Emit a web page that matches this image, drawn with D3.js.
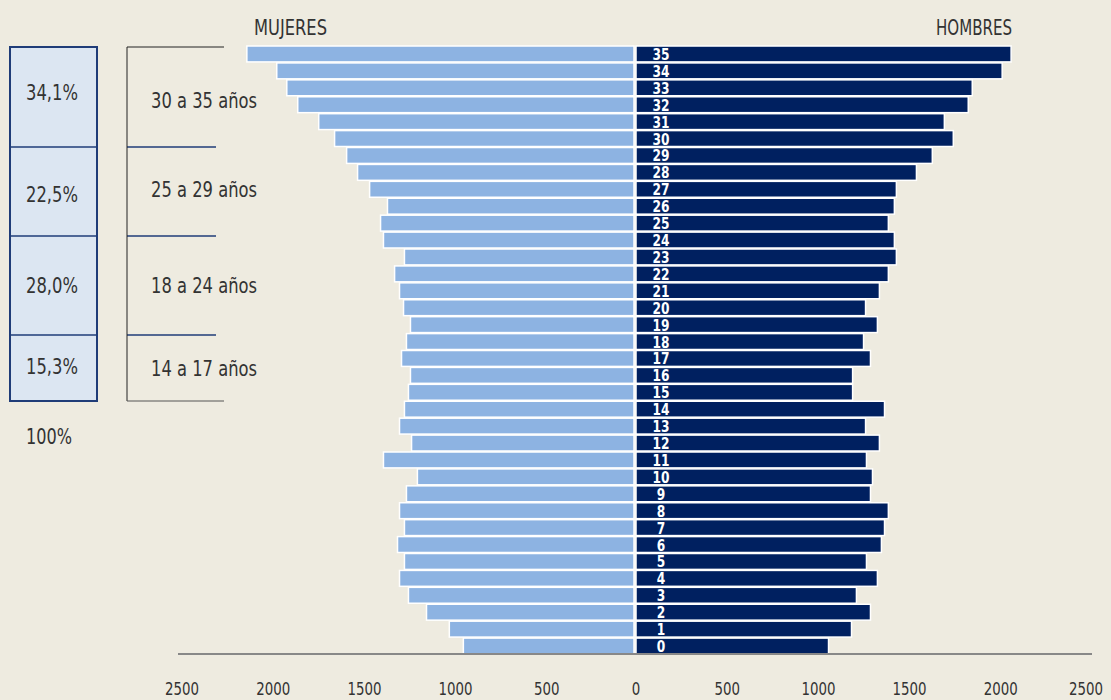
<!DOCTYPE html>
<html>
<head>
<meta charset="utf-8">
<script src="https://cdn.jsdelivr.net/npm/d3@7"></script>
<style>
  body { margin: 0; background: #eeebe0; }
  svg text { font-family: "DejaVu Sans", sans-serif; fill: #333; }
</style>
</head>
<body>
<div id="chart"></div>
<script>
var ages = d3.range(35, -1, -1);
// values, index follows ages (35 .. 0)
var mujeres = [2128, 1964, 1909, 1849, 1734, 1647, 1581, 1521, 1455, 1357, 1395, 1379,
    1264, 1318, 1291, 1269, 1231, 1253, 1280, 1231, 1242, 1264, 1291, 1225,
    1379, 1193, 1253, 1291, 1264, 1302, 1264, 1291, 1242, 1143, 1018, 941];
var hombres = [2062, 2013, 1849, 1827, 1696, 1745, 1630, 1543, 1433, 1422, 1389, 1422,
    1433, 1389, 1340, 1264, 1329, 1253, 1291, 1193, 1193, 1368, 1264, 1340,
    1269, 1302, 1291, 1389, 1368, 1351, 1269, 1329, 1214, 1291, 1187, 1061];
var ticks = [-2500, -2000, -1500, -1000, -500, 0, 500, 1000, 1500, 2000, 2500];
var groupLabels = ['30 a 35 años', '25 a 29 años', '18 a 24 años', '14 a 17 años'];
var groupPct = ['34,1%', '22,5%', '28,0%', '15,3%'];
var totalLabel = '100%';

var width = 1111,
    height = 700,
    LIGHT = '#8db3e2',
    DARK = '#002060',
    svg = d3.select('#chart').append('svg')
        .attr('width', width)
        .attr('height', height);

var x = d3.scaleLinear().domain([-2500, 2500]).range([179, 1091]),
    y = d3.scaleBand().domain(ages).range([45, 655]).padding(0.06);

var data = ages.map(function (a, i) {
    return { age: a, m: mujeres[i], h: hombres[i] };
});

// squeeze text to look like the narrow DIN face of the original
function narrow(sel, w) {
    return sel.attr('textLength', w).attr('lengthAdjust', 'spacingAndGlyphs');
}

// bars
svg.selectAll('rect.m')
    .data(data)
    .enter()
    .append('rect')
    .attr('class', 'm')
    .attr('x', function (d) { return x(-d.m); })
    .attr('width', function (d) { return x(0) - x(-d.m) - 1; })
    .attr('y', function (d) { return y(d.age); })
    .attr('height', y.bandwidth())
    .style('fill', LIGHT)
    .style('stroke', '#fff')
    .style('stroke-width', 1.5);

svg.selectAll('rect.h')
    .data(data)
    .enter()
    .append('rect')
    .attr('class', 'h')
    .attr('x', x(0) + 1)
    .attr('width', function (d) { return x(d.h) - x(0) - 1; })
    .attr('y', function (d) { return y(d.age); })
    .attr('height', y.bandwidth())
    .style('fill', DARK)
    .style('stroke', '#fff')
    .style('stroke-width', 1.5);

svg.selectAll('text.age')
    .data(data)
    .enter()
    .append('text')
    .attr('class', 'age')
    .attr('x', x(0) + 26)
    .attr('y', function (d) { return y(d.age) + y.bandwidth() / 2 + 6; })
    .attr('text-anchor', 'middle')
    .style('fill', '#fff')
    .style('font-weight', 'bold')
    .style('font-size', '16px')
    .attr('textLength', function (d) { return String(d.age).length * 8.5; })
    .attr('lengthAdjust', 'spacingAndGlyphs')
    .text(function (d) { return d.age; });

// axis
svg.append('line')
    .attr('x1', 178).attr('x2', 1092)
    .attr('y1', 654).attr('y2', 654)
    .style('stroke', '#888')
    .style('stroke-width', 2);

svg.selectAll('text.tick')
    .data(ticks)
    .enter()
    .append('text')
    .attr('class', 'tick')
    .attr('x', function (d) {
        if (d === 2500) return x(d) + 12;
        return x(d) + (d < 0 ? 3 : 1);
    })
    .attr('y', 695)
    .attr('text-anchor', function (d) { return d === 2500 ? 'end' : 'middle'; })
    .style('font-size', '18px')
    .attr('textLength', function (d) { return String(Math.abs(d)).length * 8.5; })
    .attr('lengthAdjust', 'spacingAndGlyphs')
    .text(function (d) { return Math.abs(d); });

// titles
narrow(svg.append('text').attr('x', 254).attr('y', 35)
    .style('font-size', '22px').text('MUJERES'), 73);
narrow(svg.append('text').attr('x', 936).attr('y', 35)
    .style('font-size', '22px').text('HOMBRES'), 76);

// left panel: percentage boxes and brackets
var edges = [47, 147, 236, 335, 401];

svg.append('rect')
    .attr('x', 10).attr('y', edges[0])
    .attr('width', 87).attr('height', edges[4] - edges[0])
    .style('fill', '#dce6f2')
    .style('stroke', '#1f3c78')
    .style('stroke-width', 2);

edges.slice(1, 4).forEach(function (e) {
    svg.append('line').attr('x1', 10).attr('x2', 97).attr('y1', e).attr('y2', e)
        .style('stroke', '#1f3c78').style('stroke-width', 1.5);
    svg.append('line').attr('x1', 127).attr('x2', 216).attr('y1', e).attr('y2', e)
        .style('stroke', '#1f3c78').style('stroke-width', 1.5);
});

svg.append('line').attr('x1', 127).attr('x2', 127).attr('y1', edges[0]).attr('y2', edges[4])
    .style('stroke', '#222').style('stroke-width', 1);
svg.append('line').attr('x1', 127).attr('x2', 224).attr('y1', edges[0]).attr('y2', edges[0])
    .style('stroke', '#222').style('stroke-width', 1);
svg.append('line').attr('x1', 127).attr('x2', 224).attr('y1', edges[4]).attr('y2', edges[4])
    .style('stroke', '#555').style('stroke-width', 1);

var pctY = [100, 202, 293, 374],
    lblY = [108, 197, 293, 376];

groupPct.forEach(function (p, i) {
    narrow(svg.append('text').attr('x', 26).attr('y', pctY[i])
        .style('font-size', '22px').text(p), 52);
    narrow(svg.append('text').attr('x', 151).attr('y', lblY[i])
        .style('font-size', '22px').text(groupLabels[i]), 106);
});

narrow(svg.append('text').attr('x', 26).attr('y', 444)
    .style('font-size', '22px').text(totalLabel), 46);
</script>
</body>
</html>
